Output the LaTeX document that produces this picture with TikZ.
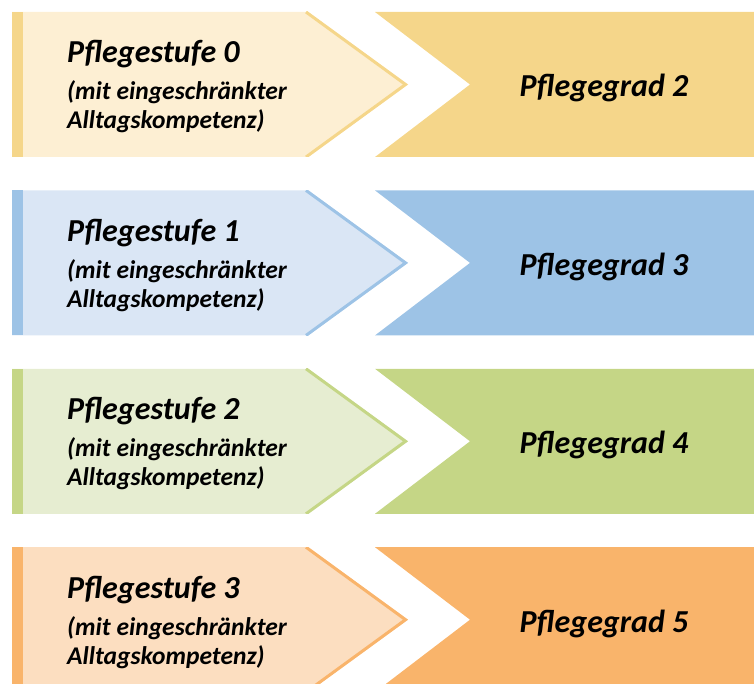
\documentclass[tikz,border=0pt]{standalone}
\usepackage{fontspec}
\setmainfont{Carlito}
\usetikzlibrary{positioning}
\definecolor{gelbD}{HTML}{F5D68A}
\definecolor{gelbH}{HTML}{FDEFD3}
\definecolor{blauD}{HTML}{9DC3E6}
\definecolor{blauH}{HTML}{DAE6F5}
\definecolor{gruenD}{HTML}{C5D686}
\definecolor{gruenH}{HTML}{E6EDD1}
\definecolor{orangeD}{HTML}{F9B46B}
\definecolor{orangeH}{HTML}{FCDEC0}
\tikzset{
  stufetext/.style={anchor=base west,font=\fontsize{32}{38}\selectfont\bfseries\itshape},
  zusatztext/.style={anchor=base west,font=\fontsize{25.5}{29}\selectfont\bfseries\itshape},
  gradtext/.style={anchor=base,font=\fontsize{32}{38}\selectfont\bfseries\itshape}
}

\begin{document}
\begin{tikzpicture}[x=1pt,y=1pt,every node/.style={inner sep=0pt}]
    \useasboundingbox (0,0) rectangle (754,-684);
    \clip (0,0) rectangle (754,-684);
    \foreach \i/\dunkel/\hell/\stufe/\grad in {0/gelbD/gelbH/0/2,1/blauD/blauH/1/3,2/gruenD/gruenH/2/4,3/orangeD/orangeH/3/5}{
        \begin{scope}[yshift={-12pt-178.4pt*\i}]
            % linker Pfeil
            \fill[\hell] (12,0) -- (308,0) -- (408,-72.5) -- (308,-145) -- (12,-145) -- cycle;
            \fill[\dunkel] (12,0) rectangle (23,-145);
            \begin{scope}
                \clip (12,0) rectangle (420,-145);
                \draw[\dunkel, line width=3pt] (306,0) -- (405.5,-72.5) -- (306,-145);
            \end{scope}
            % rechter Pfeil
            \fill[\dunkel] (375,0) -- (754,0) -- (754,-145) -- (375,-145) -- (470,-72.5) -- cycle;
            \node[stufetext] (stufe\i) at (67,-51) {Pflegestufe \stufe};
            \node[zusatztext] (zusatz\i) at (67,-88) {(mit eingeschränkter};
            \node[zusatztext] (alltag\i) at (67,-117) {Alltagskompetenz)};
            \node[gradtext] (grad\i) at (604,-85) {Pflegegrad \grad};
        \end{scope}
    }
\end{tikzpicture}
\end{document}
